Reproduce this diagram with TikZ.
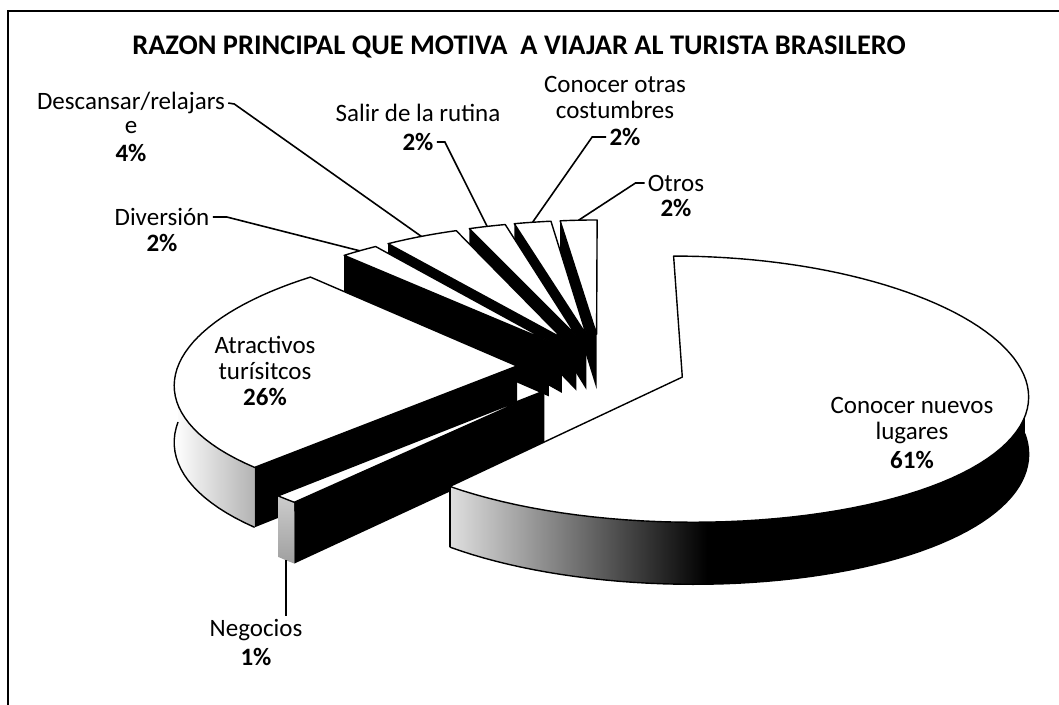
\documentclass[tikz,border=0pt]{standalone}
\usepackage{fontspec}
\setmainfont{Carlito}

\begin{document}
\begin{tikzpicture}[x=0.5pt,y=-0.5pt,
  declare function={
    wx(\Y)=1/(1+0.12*\Y);
    wy(\Y)=1/(1+0.09*\Y);
    px(\X,\Y)=601.75+339*\X*wx(\Y);
    py(\Y,\Z)=366-wy(\Y)*(130*\Y+56*\Z);
  },
  lbl/.style={font=\fontsize{12.5}{13}\selectfont,align=center,inner sep=1.5pt},
  pct/.style={lbl,font=\fontsize{12.5}{13}\selectfont\bfseries},
  leader/.style={line width=0.8pt},
  topface/.style={fill=white,draw=black,line width=0.7pt,line join=round},
  cutface/.style={fill=black}]

\useasboundingbox (0,0) rectangle (1059,705);

% frame (only top and left edge are in the scan)
\draw[line width=1pt] (1059,11) -- (8,11) -- (8,705);

% title
\node[font=\fontsize{14.2}{16}\selectfont\bfseries] (title) at (519,47) {RAZON PRINCIPAL QUE MOTIVA~ A VIAJAR AL TURISTA BRASILERO};

% small slices at the back, right to left
\foreach \s/\t/\nm in {90/97.2/ots,97.2/104.4/otr,104.4/111.6/sal,111.6/126/desc,126/133.2/div}{
  \pgfmathsetmacro\offx{0.25*cos((\s+\t)/2)}
  \pgfmathsetmacro\offy{0.25*sin((\s+\t)/2)}
  \pgfmathsetmacro\mang{(\s+\t)/2}
  \fill[cutface] ({px(\offx,\offy)},{py(\offy,0)})
     -- ({px(\offx+cos(\t),\offy+sin(\t))},{py(\offy+sin(\t),0)})
     -- ({px(\offx+cos(\t),\offy+sin(\t))},{py(\offy+sin(\t),-1)})
     -- ({px(\offx,\offy)},{py(\offy,-1)}) -- cycle;
  \filldraw[topface] ({px(\offx,\offy)},{py(\offy,0)})
     -- plot[domain=\s:\t,samples=8] ({px(\offx+cos(\x),\offy+sin(\x))},{py(\offy+sin(\x),0)}) -- cycle;
  \coordinate (\nm-rim) at ({px(\offx+cos(\mang),\offy+sin(\mang))},{py(\offy+sin(\mang),0)});
}

% Atractivos turisitcos (133.2 - 226.8)
\pgfmathsetmacro\offx{0.25*cos(180)}
\pgfmathsetmacro\offy{0.25*sin(180)}
\shade[left color=white,right color=gray!60]
  plot[domain=180:226.8,samples=20] ({px(\offx+cos(\x),\offy+sin(\x))},{py(\offy+sin(\x),0)})
  -- plot[domain=226.8:180,samples=20] ({px(\offx+cos(\x),\offy+sin(\x))},{py(\offy+sin(\x),-1)}) -- cycle;
\draw[line width=0.7pt] plot[domain=180:226.8,samples=20] ({px(\offx+cos(\x),\offy+sin(\x))},{py(\offy+sin(\x),-1)});
\fill[cutface] ({px(\offx,\offy)},{py(\offy,0)})
  -- ({px(\offx+cos(226.8),\offy+sin(226.8))},{py(\offy+sin(226.8),0)})
  -- ({px(\offx+cos(226.8),\offy+sin(226.8))},{py(\offy+sin(226.8),-1)})
  -- ({px(\offx,\offy)},{py(\offy,-1)}) -- cycle;
\filldraw[topface] ({px(\offx,\offy)},{py(\offy,0)})
  -- plot[domain=133.2:226.8,samples=40] ({px(\offx+cos(\x),\offy+sin(\x))},{py(\offy+sin(\x),0)}) -- cycle;

% Negocios (226.8 - 230.4)
\pgfmathsetmacro\offx{0.25*cos(228.6)}
\pgfmathsetmacro\offy{0.25*sin(228.6)}
\shade[top color=gray!40,bottom color=gray!75]
  plot[domain=226.8:230.4,samples=4] ({px(\offx+cos(\x),\offy+sin(\x))},{py(\offy+sin(\x),0)})
  -- plot[domain=230.4:226.8,samples=4] ({px(\offx+cos(\x),\offy+sin(\x))},{py(\offy+sin(\x),-1)}) -- cycle;
\fill[cutface] ({px(\offx,\offy)},{py(\offy,0)})
  -- ({px(\offx+cos(230.4),\offy+sin(230.4))},{py(\offy+sin(230.4),0)})
  -- ({px(\offx+cos(230.4),\offy+sin(230.4))},{py(\offy+sin(230.4),-1)})
  -- ({px(\offx,\offy)},{py(\offy,-1)}) -- cycle;
\filldraw[topface] ({px(\offx,\offy)},{py(\offy,0)})
  -- plot[domain=226.8:230.4,samples=4] ({px(\offx+cos(\x),\offy+sin(\x))},{py(\offy+sin(\x),0)}) -- cycle;
\coordinate (neg-bot) at ({px(\offx+cos(228.6),\offy+sin(228.6))},{py(\offy+sin(228.6),-1)});

% Conocer nuevos lugares (230.4 - 450)
\pgfmathsetmacro\offx{0.25*cos(340.2)}
\pgfmathsetmacro\offy{0.25*sin(340.2)}
\fill[black]
  plot[domain=230.4:360,samples=60] ({px(\offx+cos(\x),\offy+sin(\x))},{py(\offy+sin(\x),0)})
  -- plot[domain=360:230.4,samples=60] ({px(\offx+cos(\x),\offy+sin(\x))},{py(\offy+sin(\x),-1)}) -- cycle;
\shade[left color=gray!25,right color=black]
  plot[domain=230.4:272,samples=25] ({px(\offx+cos(\x),\offy+sin(\x))},{py(\offy+sin(\x),0)})
  -- plot[domain=272:230.4,samples=25] ({px(\offx+cos(\x),\offy+sin(\x))},{py(\offy+sin(\x),-1)}) -- cycle;
\draw[line width=0.7pt] plot[domain=230.4:360,samples=60] ({px(\offx+cos(\x),\offy+sin(\x))},{py(\offy+sin(\x),-1)});
\draw[line width=0.7pt] ({px(\offx+cos(230.4),\offy+sin(230.4))},{py(\offy+sin(230.4),0)})
  -- ({px(\offx+cos(230.4),\offy+sin(230.4))},{py(\offy+sin(230.4),-1)});
\filldraw[topface] ({px(\offx,\offy)},{py(\offy,0)})
  -- plot[domain=230.4:450,samples=90] ({px(\offx+cos(\x),\offy+sin(\x))},{py(\offy+sin(\x),0)}) -- cycle;

% labels
\node[lbl] (descN) at (131,103) {Descansar/relajars};
\node[lbl] (descE) at (131,128) {e};
\node[pct] (descP) at (131,153) {4\%};
\node[lbl] (divN) at (162,217) {Diversión};
\node[pct] (divP) at (162,243) {2\%};
\node[lbl] (salN) at (418,113) {Salir de la rutina};
\node[pct] (salP) at (418,142) {2\%};
\node[lbl] (otrN) at (615,97) {Conocer otras\\costumbres};
\node[pct] (otrP) at (625,137) {2\%};
\node[lbl] (otsN) at (676,183) {Otros};
\node[pct] (otsP) at (676,208) {2\%};
\node[lbl] (atrN) at (265,358) {Atractivos\\turísitcos};
\node[pct] (atrP) at (265,397) {26\%};
\node[lbl] (negN) at (256,630) {Negocios};
\node[pct] (negP) at (256,657) {1\%};
\node[lbl] (conN) at (912,421) {Conocer nuevos\\lugares};
\node[pct] (conP) at (912,460) {61\%};

% leader lines
\draw[leader] (descN.east) -- ++(6,1) -- (desc-rim);
\draw[leader] (divN.east) -- ++(14,0) -- (div-rim);
\draw[leader] (salP.east) -- ++(8,0) -- (sal-rim);
\draw[leader] (otrP.west) -- ++(-14,0) -- (otr-rim);
\draw[leader] (otsN.west) -- ++(-9,0) -- (ots-rim);
\draw[leader] (neg-bot) -- (neg-bot |- negN.north);

\end{tikzpicture}
\end{document}
